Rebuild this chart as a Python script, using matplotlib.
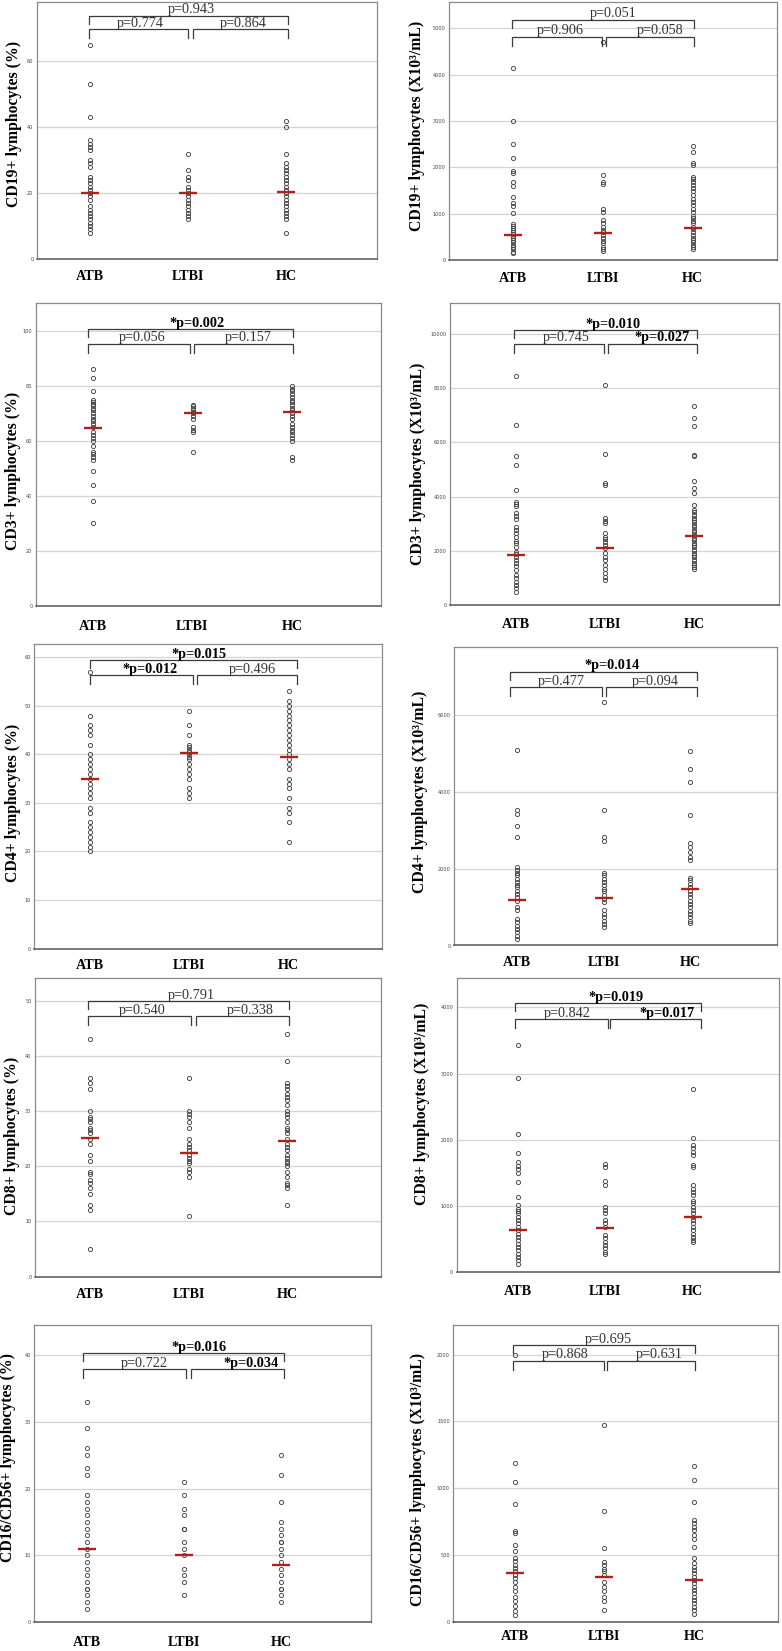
import matplotlib
matplotlib.use("Agg")
import matplotlib.pyplot as plt
import numpy as np

# ---------------- data ----------------
groups = ["ATB", "LTBI", "HC"]

cd19_pct_atb = [65, 53, 43, 36, 35, 34, 33, 30, 29, 28, 25, 24, 23, 22, 21, 20, 19, 18, 16, 15, 14, 13, 12, 11, 10, 9, 8]
cd19_pct_ltbi = [32, 27, 25, 24, 22, 21, 20, 19, 18, 17, 16, 15, 14, 13, 12]
cd19_pct_hc = [42, 40, 32, 29, 28, 27, 26, 25, 24, 23, 22, 21, 20, 19, 18, 17, 16, 15, 14, 13, 12, 8]
cd19_pct_med = [20, 20, 20.2]

cd19_abs_atb = [4150, 3000, 2500, 2200, 1930, 1870, 1680, 1590, 1350, 1220, 1170, 1010, 780, 740, 700, 650, 600,
                560, 520, 480, 430, 380, 330, 280, 230, 180, 150]
cd19_abs_ltbi = [4700, 1830, 1680, 1650, 1100, 1030, 860, 800, 720, 650, 600, 540, 480, 420, 360, 290, 240, 200]
cd19_abs_hc = [2450, 2340, 2100, 2050, 1800, 1750, 1680, 1620, 1550, 1480, 1400, 1320, 1250, 1180, 1100, 1030, 960,
               900, 850, 790, 720, 660, 600, 540, 480, 430, 380, 330, 280, 240]
cd19_abs_med = [540, 590, 683]

cd3_pct_atb = [86, 83, 78, 75, 74, 73.5, 73, 72, 71, 70, 69, 68, 67, 66, 65, 63, 62, 61, 60, 58, 56, 55, 54, 53, 49,
               44, 38, 30]
cd3_pct_ltbi = [73, 72.5, 72, 71, 70.5, 70, 69, 68, 65, 64, 63, 56]
cd3_pct_hc = [80, 79, 78, 77, 76, 75, 74, 73, 72, 71, 70, 69, 68, 66, 65, 64, 63, 62, 61, 60, 54, 53]
cd3_pct_med = [64.7, 70.1, 70.5]

cd3_abs_atb = [8430, 6620, 5480, 5150, 4250, 3820, 3720, 3640, 3400, 3270, 3180, 2900, 2780, 2650, 2530, 2380, 2290,
               2160, 1980, 1890, 1790, 1670, 1550, 1430, 1300, 1120, 1000, 870, 750, 630, 500]
cd3_abs_ltbi = [8120, 5570, 4500, 4420, 3230, 3120, 3020, 2650, 2530, 2430, 2320, 2230, 2100, 1920, 1790, 1650, 1490,
                1340, 1180, 1060, 930]
cd3_abs_hc = [7350, 6900, 6590, 5550, 5480, 4580, 4310, 4150, 3700, 3520, 3420, 3330, 3230, 3150, 3050, 2960, 2870,
              2780, 2680, 2590, 2490, 2410, 2310, 2220, 2140, 2040, 1940, 1860, 1760, 1670, 1570, 1490, 1400, 1330]
cd3_abs_med = [1840, 2100, 2545]

cd4_pct_atb = [57, 48, 46, 45, 44, 42, 40, 39, 38, 37, 36, 35, 34, 33, 32, 31, 29, 28, 26, 25, 24, 23, 22, 21, 20]
cd4_pct_ltbi = [49, 46, 44, 42, 41.5, 41, 40.5, 40, 39.5, 39, 38, 37, 36, 35, 33, 32, 31]
cd4_pct_hc = [53, 51, 50, 49, 48, 47, 46, 45, 44, 43, 42, 41, 40, 39, 38, 37, 35, 34, 33, 31, 29, 28, 26, 22]
cd4_pct_med = [35.0, 40.2, 39.5]

cd4_abs_atb = [5090, 3540, 3430, 3100, 2830, 2040, 1970, 1900, 1830, 1740, 1650, 1580, 1520, 1430, 1350, 1260, 1170,
               1000, 930, 700, 610, 520, 430, 350, 260, 170]
cd4_abs_ltbi = [6350, 3540, 2830, 2710, 1900, 1830, 1740, 1650, 1570, 1480, 1410, 1320, 1220, 1130, 930, 830, 740,
                650, 570, 480]
cd4_abs_hc = [5070, 4590, 4260, 3390, 2670, 2570, 2430, 2300, 2230, 1770, 1700, 1610, 1520, 1430, 1350, 1260, 1170,
              1090, 1000, 910, 830, 740, 650, 580]
cd4_abs_med = [1180, 1235, 1460]

cd8_pct_atb = [43, 36, 35, 34, 30, 29, 28.5, 28, 27, 26.5, 26, 25, 24, 22, 21, 19, 18.5, 17.5, 17, 16, 15, 13, 12, 5]
cd8_pct_ltbi = [36, 30, 29.5, 29, 28, 27, 25, 24, 23.5, 23, 22, 21.5, 21, 20.5, 19.5, 19, 18, 11]
cd8_pct_hc = [44, 39, 35, 34.5, 34, 33, 32.5, 32, 31, 30, 29.5, 29, 28, 27, 26.5, 26, 25, 24, 23.5, 23, 22, 21.5, 21,
              20.5, 20, 19, 18, 17, 16.5, 16, 13]
cd8_pct_med = [25.1, 22.4, 24.6]

cd8_abs_atb = [3430, 2940, 2090, 1800, 1660, 1610, 1560, 1500, 1360, 1140, 1010, 960, 930, 890, 840, 790, 740, 690,
               630, 580, 530, 480, 430, 380, 330, 280, 230, 180, 130]
cd8_abs_ltbi = [1630, 1590, 1380, 1310, 990, 940, 900, 790, 740, 690, 560, 510, 460, 410, 360, 310, 280]
cd8_abs_hc = [2770, 2020, 1920, 1870, 1820, 1770, 1620, 1590, 1310, 1260, 1210, 1170, 1080, 1040, 990, 940, 890, 840,
              790, 740, 690, 630, 580, 530, 480, 450]
cd8_abs_med = [635, 660, 836]

nk_pct_atb = [33, 29, 26, 25, 23, 22, 19, 18, 17, 16, 15, 14, 13, 12, 11, 10, 9, 8, 7, 6, 5, 5, 4, 3, 2]
nk_pct_ltbi = [21, 19, 17, 16, 14, 14, 12, 11, 10, 8, 7, 6, 4]
nk_pct_hc = [25, 22, 18, 15, 14, 13, 12, 12, 11, 10, 9, 8, 7, 6, 5, 5, 4, 3]
nk_pct_med = [11.0, 10.0, 8.6]

nk_abs_atb = [2000, 1190, 1045, 885, 685, 665, 580, 530, 480, 455, 430, 405, 380, 355, 330, 300, 265, 230, 190, 155,
              120, 80, 55]
nk_abs_ltbi = [1475, 830, 555, 450, 430, 400, 380, 350, 300, 265, 230, 190, 155, 90]
nk_abs_hc = [1165, 1065, 895, 765, 740, 715, 690, 650, 625, 565, 480, 440, 415, 390, 365, 340, 315, 290, 265, 240,
             215, 190, 165, 140, 115, 90, 65]
nk_abs_med = [368, 339, 316]

ylabels = ["CD19+ lymphocytes (%)", "CD19+ lymphocytes (X10³/mL)",
           "CD3+ lymphocytes (%)", "CD3+ lymphocytes (X10³/mL)",
           "CD4+ lymphocytes (%)", "CD4+ lymphocytes (X10³/mL)",
           "CD8+ lymphocytes (%)", "CD8+ lymphocytes (X10³/mL)",
           "CD16/CD56+ lymphocytes (%)", "CD16/CD56+ lymphocytes (X10³/mL)"]

p_overall = ["p=0.943", "p=0.051", "*p=0.002", "*p=0.010", "*p=0.015", "*p=0.014", "p=0.791", "*p=0.019",
             "*p=0.016", "p=0.695"]
p_atb_ltbi = ["p=0.774", "p=0.906", "p=0.056", "p=0.745", "*p=0.012", "p=0.477", "p=0.540", "p=0.842", "p=0.722",
              "p=0.868"]
p_ltbi_hc = ["p=0.864", "p=0.058", "p=0.157", "*p=0.027", "p=0.496", "p=0.094", "p=0.338", "*p=0.017", "*p=0.034",
             "p=0.631"]

panel_data = [
    (cd19_pct_atb, cd19_pct_ltbi, cd19_pct_hc, cd19_pct_med),
    (cd19_abs_atb, cd19_abs_ltbi, cd19_abs_hc, cd19_abs_med),
    (cd3_pct_atb, cd3_pct_ltbi, cd3_pct_hc, cd3_pct_med),
    (cd3_abs_atb, cd3_abs_ltbi, cd3_abs_hc, cd3_abs_med),
    (cd4_pct_atb, cd4_pct_ltbi, cd4_pct_hc, cd4_pct_med),
    (cd4_abs_atb, cd4_abs_ltbi, cd4_abs_hc, cd4_abs_med),
    (cd8_pct_atb, cd8_pct_ltbi, cd8_pct_hc, cd8_pct_med),
    (cd8_abs_atb, cd8_abs_ltbi, cd8_abs_hc, cd8_abs_med),
    (nk_pct_atb, nk_pct_ltbi, nk_pct_hc, nk_pct_med),
    (nk_abs_atb, nk_abs_ltbi, nk_abs_hc, nk_abs_med),
]

# ---------------- layout (pixel geometry of each panel) ----------------
W, H = 782, 1651
# left, top, right, bottom, ymax, tick step, point x (3 groups), xlabel offset, ylabel center
geom = [
    dict(box=(37, 2, 377, 259), ymax=78.0, step=20, yt=60, px=(90, 189, 286), lab=18, yl=(14, 124)),
    dict(box=(449, 2, 777, 260), ymax=5567, step=1000, yt=5000, px=(512.7, 599, 692.7), lab=18.3, yl=(416.7, 125.8)),
    dict(box=(36, 303, 381, 605.7), ymax=110.1, step=20, yt=100, px=(92.7, 193.3, 292.3), lab=20.3, yl=(13.3, 470.8)),
    dict(box=(450, 303, 779, 605.3), ymax=11127, step=2000, yt=10000, px=(516, 602.3, 694), lab=19.7, yl=(418.3, 464)),
    dict(box=(34.3, 644.3, 381.7, 948.5), ymax=62.7, step=10, yt=60, px=(90, 190, 288.7), lab=16.5, yl=(13.3, 803)),
    dict(box=(454, 646.7, 776.7, 945.5), ymax=7781, step=2000, yt=6000, px=(517.3, 602, 690), lab=17.2, yl=(420, 791.7)),
    dict(box=(35, 978.3, 381, 1276.5), ymax=54.05, step=10, yt=50, px=(90, 190.7, 287.3), lab=17.5, yl=(11.7, 1135.8)),
    dict(box=(456.7, 978.3, 779, 1272.2), ymax=4438, step=1000, yt=4000, px=(517.7, 605, 692.7), lab=19.5, yl=(421.7, 1104)),
    dict(box=(34.3, 1325, 371, 1622), ymax=44.5, step=10, yt=40, px=(87.3, 185.7, 281), lab=20.7, yl=(8.3, 1457.5)),
    dict(box=(453.3, 1325, 778, 1622.2), ymax=2221, step=500, yt=2000, px=(515, 601.3, 694), lab=14.5, yl=(418.3, 1479)),
]
# bracket geometry: y_top, y_low, x_left, x_mid_l, x_mid_r, x_right, text x (top, left, right)
brackets = [
    (15.7, 29.3, 89, 187.7, 192.7, 288.3, 191.7, 140.7, 243.3),
    (20, 36.7, 511.7, 602.3, 606, 694, 613.3, 560, 660),
    (329, 344, 87.7, 190, 194, 293, 196.7, 142.7, 248.3),
    (330, 344, 514.3, 604, 607.7, 697.3, 613.3, 566, 661.7),
    (660, 675, 89.5, 192.7, 196.7, 296.7, 199.3, 150, 252.3),
    (671.7, 687.3, 510, 602.3, 606, 697.3, 611.7, 561.7, 655),
    (1001, 1016, 87.7, 190.7, 196, 288.7, 191.7, 142.7, 250),
    (1003.3, 1019, 515, 608.3, 610, 701, 616, 567.7, 666.7),
    (1353.3, 1369.3, 83.3, 185.7, 190.7, 283.7, 199, 144.3, 250.7),
    (1345, 1360.7, 513, 604.3, 607.3, 695.3, 608.3, 565, 659.3),
]

SERIF = ["Liberation Serif", "DejaVu Serif"]
fig = plt.figure(figsize=(W / 100, H / 100), dpi=100)
fig.patch.set_facecolor("white")


def fx(x):
    return x / W


def fy(y):
    return 1 - y / H


def ptext(x, y, s, **kw):
    bold = s.startswith("*")
    fig.text(fx(x), fy(y), s, ha="center", va="baseline", family=SERIF, fontsize=10.3,
             fontweight="bold" if bold else "normal", color="black" if bold else "#333333", **kw)


def pline(xs, ys):
    fig.add_artist(plt.Line2D([fx(v) for v in xs], [fy(v) for v in ys], color="#3a3a3a", lw=0.9,
                              solid_joinstyle="miter"))


for i, (g, d) in enumerate(zip(geom, panel_data)):
    l, t, r, b = g["box"]
    ax = fig.add_axes([fx(l), fy(b), (r - l) / W, (b - t) / H])
    x1, x2, x3 = g["px"]
    sp = (x3 - x1) / 2
    ax.set_xlim(1 - (x1 - l) / sp, 3 + (r - x3) / sp)
    ax.set_ylim(0, g["ymax"])
    ticks = np.arange(0, g["yt"] + g["step"] / 2, g["step"])
    ax.set_yticks(ticks)
    ax.set_yticklabels([f"{int(v)}" for v in ticks])
    for v in ticks[1:]:
        ax.axhline(v, color="#d4d4d4", lw=0.9, zorder=0)
    for s in ax.spines.values():
        s.set_color("#8a8a8a")
        s.set_linewidth(0.9)
    ax.spines["bottom"].set_color("#555555")
    ax.spines["bottom"].set_linewidth(1.1)
    ax.tick_params(axis="y", length=0, labelsize=3.6, labelcolor="#444444", pad=2.5)
    ax.tick_params(axis="x", length=0, pad=(g["lab"] - 6.5) * 0.72)
    ax.set_xticks([1, 2, 3])
    ax.set_xticklabels(groups, family=SERIF, fontweight="bold", fontsize=10.2)

    atb, ltbi, hc, med = d
    for k, vals in enumerate([atb, ltbi, hc]):
        ax.plot(np.full(len(vals), k + 1), vals, linestyle="none", marker="o", ms=3.0,
                mfc="none", mec="#454545", mew=0.65, zorder=3)
        ax.plot([k + 1], [med[k]], marker="_", ms=13.5, mew=1.7, color="#b0201c", zorder=4)

    fig.text(fx(g["yl"][0]), fy(g["yl"][1]), ylabels[i], rotation=90, ha="center", va="center",
             family=SERIF, fontweight="bold", fontsize=11.3)

    yt, ylo, xl, xml, xmr, xr, tx0, tx1, tx2 = brackets[i]
    pline([xl, xl, xr, xr], [yt + 8, yt, yt, yt + 8])
    pline([xl, xl, xml, xml], [ylo + 9, ylo, ylo, ylo + 9])
    pline([xmr, xmr, xr, xr], [ylo + 9, ylo, ylo, ylo + 9])
    ptext(tx0, yt - 2.5, p_overall[i])
    ptext(tx1, ylo - 2.5, p_atb_ltbi[i])
    ptext(tx2, ylo - 2.5, p_ltbi_hc[i])

fig.savefig("out.png", dpi=100, facecolor="white")
